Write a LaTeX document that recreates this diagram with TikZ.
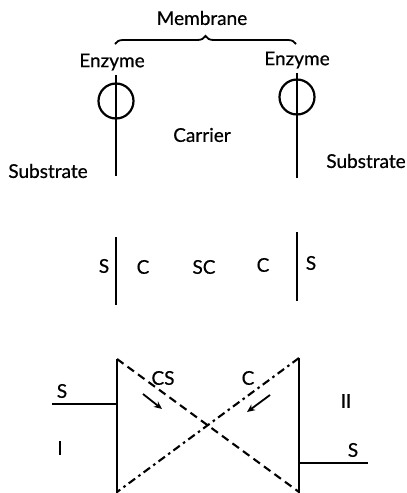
\documentclass[tikz,border=0pt]{standalone}
\usepackage{fontspec}
\setmainfont{Lato}
\newfontfamily\lblfont{Lato}[FakeBold=0.6]
\usetikzlibrary{arrows.meta,decorations.pathreplacing}
\begin{document}
\begin{tikzpicture}[x=1pt,y=-1pt,
  lbl/.style={font=\lblfont\fontsize{19}{22}\selectfont, inner sep=0pt, anchor=center},
  mline/.style={line width=2.3pt},
  enz/.style={circle, draw, line width=2.2pt, minimum size=35pt, inner sep=0pt},
  dashln/.style={line width=2.1pt, dash pattern=on 8pt off 5pt},
  dotln/.style={line width=2.1pt, dash pattern=on 8pt off 4pt on 2.5pt off 4pt},
  arr/.style={line width=1.8pt, -{Stealth[length=8pt,width=7pt]}}]
\useasboundingbox (0,0) rectangle (407,493);
% top section
\node[lbl] (mem) at (202,18) {Membrane};
\draw[line width=1.8pt, decorate, decoration={brace, amplitude=8pt}] (115,44) -- (296,44);
\node[lbl] (enzL) at (112,62) {Enzyme};
\node[lbl] (enzR) at (297,60) {Enzyme};
\node[enz] (cL) at (116,101) {};
\node[enz] (cR) at (297,97) {};
\coordinate (tL1) at (116,75); \coordinate (tL2) at (116,176);
\coordinate (tR1) at (297,73); \coordinate (tR2) at (297,178);
\draw[mline] (tL1) -- (tL2);
\draw[mline] (tR1) -- (tR2);
\node[lbl] (car) at (202,135) {Carrier};
\node[lbl] (subL) at (48,171) {Substrate};
\node[lbl] (subR) at (366,161) {Substrate};
% middle section
\coordinate (mL1) at (116,237); \coordinate (mL2) at (116,305);
\coordinate (mR1) at (297,232); \coordinate (mR2) at (297,301);
\draw[mline] (mL1) -- (mL2);
\draw[mline] (mR1) -- (mR2);
\node[lbl] (s1) at (104,266) {S};
\node[lbl] (c1) at (143,267) {C};
\node[lbl] (sc) at (204,267) {SC};
\node[lbl] (c2) at (263,265) {C};
\node[lbl] (s2) at (311,263) {S};
% bottom section
\coordinate (bL1) at (117,359); \coordinate (bL2) at (117,495);
\coordinate (bR1) at (299,358); \coordinate (bR2) at (299,495);
\coordinate (bLd) at (117,492); \coordinate (bRd) at (299,492);
\draw[mline] (bL1) -- (bL2);
\draw[mline] (bR1) -- (bR2);
\coordinate (sinL) at (52,404); \coordinate (sinLe) at (117,404);
\coordinate (sinR) at (368,463); \coordinate (sinRe) at (299,463);
\draw[mline] (sinL) -- (sinLe);
\draw[mline] (sinRe) -- (sinR);
\node[lbl] (sa) at (62,391) {S};
\node[lbl] (sb) at (353,450) {S};
\node[lbl] (one) at (60,448) {I};
\node[lbl] (two) at (346,401) {II};
\draw[dashln] (bL1) -- (bRd);
\draw[dotln] (bR1) -- (bLd);
\node[lbl] (cs) at (163,378) {CS};
\node[lbl] (c3) at (248,378) {C};
\coordinate (a1s) at (143,394); \coordinate (a1e) at (162,409);
\coordinate (a2s) at (270,395); \coordinate (a2e) at (247,412);
\draw[arr] (a1s) -- (a1e);
\draw[arr] (a2s) -- (a2e);
\end{tikzpicture}
\end{document}
